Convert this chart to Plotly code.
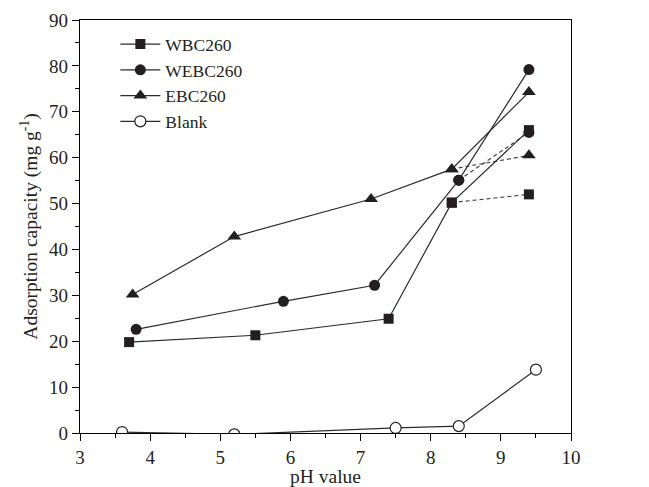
import plotly.graph_objects as go

# Data
ph_wbc = [3.7, 5.5, 7.4, 8.3, 9.4]
ads_wbc = [19.8, 21.3, 24.9, 50.2, 66.0]
ph_wbc_dash = [8.3, 9.4]
ads_wbc_dash = [50.2, 52.0]

ph_webc = [3.8, 5.9, 7.2, 8.4, 9.4]
ads_webc = [22.6, 28.7, 32.2, 55.1, 79.2]
ph_webc_dash = [8.4, 9.4]
ads_webc_dash = [55.1, 65.5]

ph_ebc = [3.75, 5.2, 7.15, 8.3, 9.4]
ads_ebc = [30.2, 42.8, 51.0, 57.5, 74.3]
ph_ebc_dash = [8.3, 9.4]
ads_ebc_dash = [57.5, 60.5]

ph_blank = [3.6, 5.2, 7.5, 8.4, 9.5]
ads_blank = [0.2, -0.3, 1.1, 1.5, 13.8]

FONT = "Liberation Serif"
LINE = "#2b2b2b"
DASH = "#444444"
INK = "#231f20"

fig = go.Figure()

def dashed(x, y, sym, size):
    fig.add_trace(go.Scatter(x=x, y=y, mode="lines+markers", showlegend=False,
                             line=dict(color=DASH, width=1.2, dash="4px,3px"),
                             marker=dict(symbol=sym, size=size, color=INK)))

dashed(ph_wbc_dash, ads_wbc_dash, "square", 10)
dashed(ph_webc_dash, ads_webc_dash, "circle", 11)
dashed(ph_ebc_dash, ads_ebc_dash, "triangle-up", 12)

fig.add_trace(go.Scatter(x=ph_wbc, y=ads_wbc, mode="lines+markers", name="WBC260",
                         line=dict(color=LINE, width=1.2),
                         marker=dict(symbol="square", size=10, color=INK)))
fig.add_trace(go.Scatter(x=ph_webc, y=ads_webc, mode="lines+markers", name="WEBC260",
                         line=dict(color=LINE, width=1.2),
                         marker=dict(symbol="circle", size=11, color=INK)))
fig.add_trace(go.Scatter(x=ph_ebc, y=ads_ebc, mode="lines+markers", name="EBC260",
                         line=dict(color=LINE, width=1.2),
                         marker=dict(symbol="triangle-up", size=12, color=INK)))
fig.add_trace(go.Scatter(x=ph_blank, y=ads_blank, mode="lines+markers", name="Blank",
                         line=dict(color=LINE, width=1.2),
                         marker=dict(symbol="circle", size=11, color="white",
                                     line=dict(color=INK, width=1.2))))

axis_common = dict(showgrid=False, zeroline=False, showline=True, linecolor="black",
                   linewidth=1.3, mirror=True, ticks="outside", ticklen=7,
                   tickwidth=1.2, tickcolor="black", automargin=False,
                   tickfont=dict(family=FONT, size=19, color=INK))

fig.update_xaxes(range=[3, 10], dtick=1, tick0=3,
                 minor=dict(dtick=0.5, ticks="outside", ticklen=4, tickcolor="black"),
                 title=dict(text="pH value", font=dict(family=FONT, size=19.5, color=INK),
                            standoff=4),
                 **axis_common)
fig.update_yaxes(range=[0, 90], dtick=10, tick0=0,
                 minor=dict(dtick=5, ticks="outside", ticklen=4, tickcolor="black"),
                 title=dict(text="Adsorption capacity (mg g<sup>-1</sup>)",
                            font=dict(family=FONT, size=19.5, color=INK), standoff=6),
                 **axis_common)

fig.update_layout(
    width=641, height=479,
    margin=dict(l=72, r=78, t=12, b=54),
    paper_bgcolor="white", plot_bgcolor="white",
    font=dict(family=FONT, color=INK),
    legend=dict(x=0.072, y=0.985, xanchor="left", yanchor="top",
                bgcolor="rgba(0,0,0,0)", font=dict(family=FONT, size=17.5, color=INK),
                tracegroupgap=0, itemwidth=40),
)

fig.write_html("out.html")
